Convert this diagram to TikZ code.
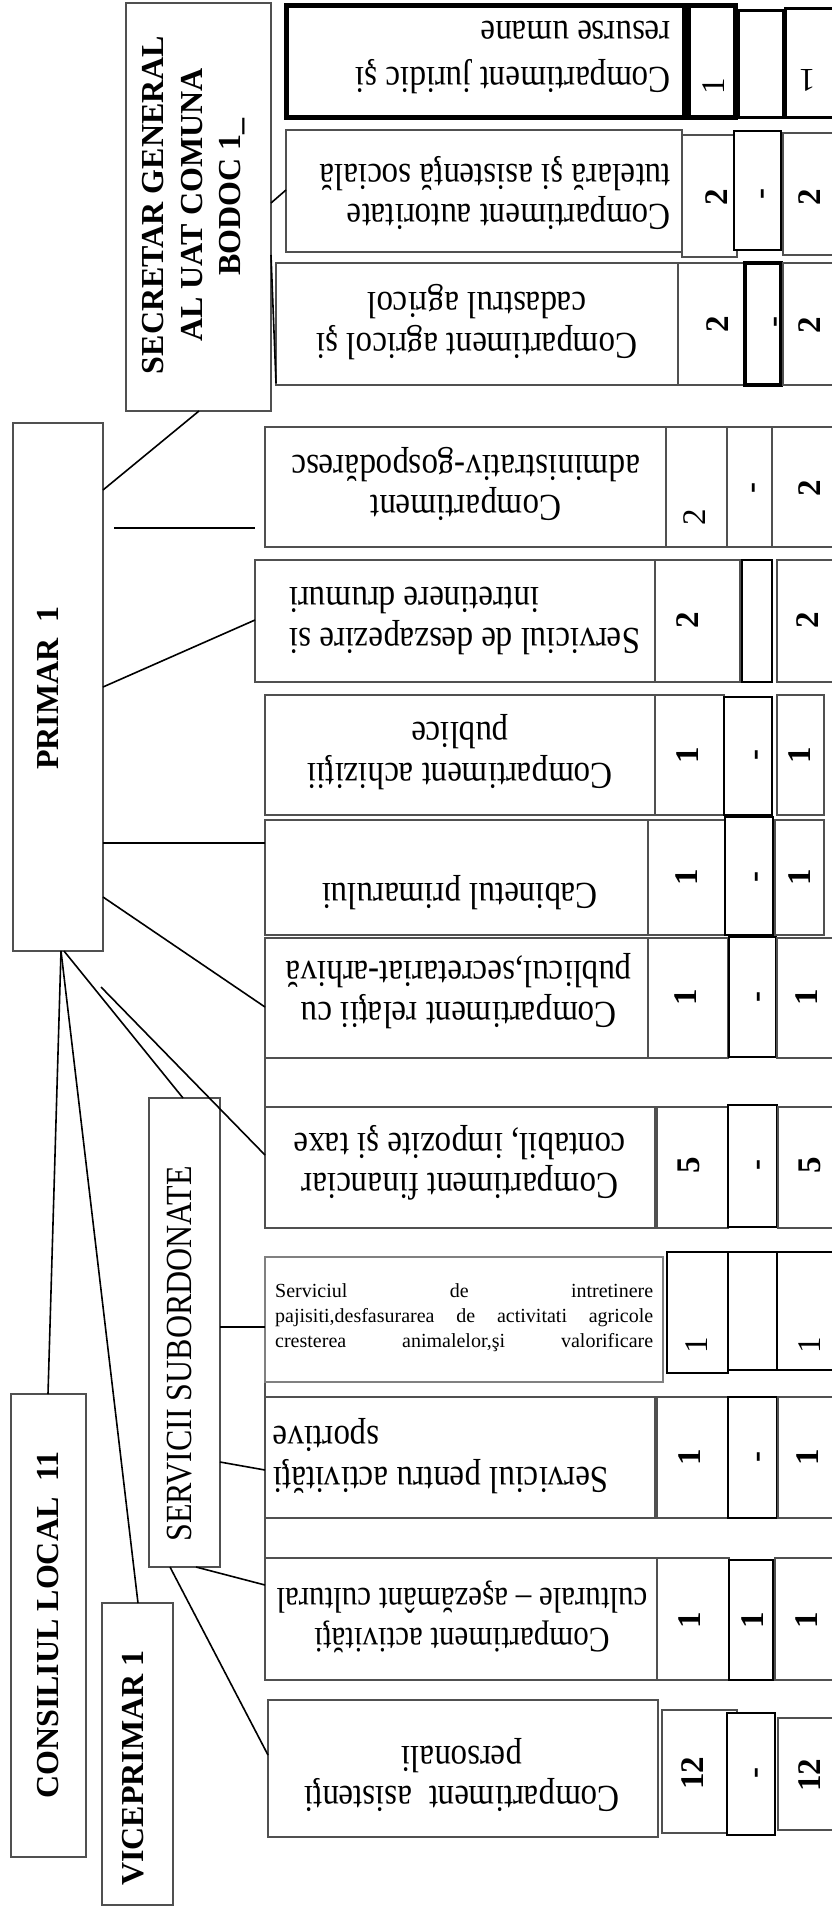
\documentclass[tikz,border=0pt]{standalone}
\usepackage{fontspec}
\setmainfont{Liberation Serif}
\usetikzlibrary{fit}
\definecolor{bord}{HTML}{505050}
\tikzset{
 bx/.style={draw=bord, line width=2.6pt, fill=white, inner sep=0pt, outer sep=0pt},
 bkb/.style={draw=black, line width=2pt, fill=white, inner sep=0pt, outer sep=0pt},
 hvb/.style={draw=black, line width=5pt, fill=white, inner sep=0pt, outer sep=0pt},
 lbl/.style={font=\fontsize{33}{35}\selectfont, rotate=180, yscale=1.15, inner sep=0pt},
 num/.style={font=\bfseries\fontsize{33}{33}\selectfont, rotate=90, inner sep=0pt},
 numr/.style={font=\fontsize{33}{33}\selectfont, rotate=90, inner sep=0pt},
 head/.style={font=\bfseries\fontsize{32}{38.5}\selectfont, rotate=90, inner sep=0pt, align=center},
 conn/.style={draw=black, line width=1.6pt},
}
\newcommand\mybox[6]{\node[#1, fit={(#2,#3) (#4,#5)}] (#6) {};}
\begin{document}
\begin{tikzpicture}[x=1pt,y=-1pt]
\clip (0,0) rectangle (832,1912);
\fill[white] (0,0) rectangle (832,1912);
% short vertical links between the left edges of rows 8-9, 10-11, 11-12
\coordinate (bus1a) at (265,1058); \coordinate (bus1b) at (265,1107);
\coordinate (bus2a) at (265,1380); \coordinate (bus2b) at (265,1397);
\coordinate (bus3a) at (265,1518); \coordinate (bus3b) at (265,1558);
\draw[draw=bord, line width=2.6pt] (bus1a) -- (bus1b) (bus2a) -- (bus2b) (bus3a) -- (bus3b);
% row 1
\mybox{hvb}{286}{5}{684}{117}{r1}
\mybox{hvb}{688}{5}{735}{117}{r1b}
\mybox{bkb, line width=3pt}{738}{10}{783}{117}{r1c}
\mybox{bkb, line width=3pt}{785}{8}{845}{117}{r1d}
% row 2
\mybox{bx}{286}{130}{682}{252}{r2}
\mybox{bx}{682}{135}{737}{257}{r2b}
\mybox{bkb}{734}{131}{781}{250}{r2c}
\mybox{bx}{783}{133}{845}{255}{r2d}
% row 3
\mybox{bx}{276}{263}{678}{385}{r3}
\mybox{bx}{678}{263}{745}{385}{r3b}
\mybox{bkb, line width=3.5pt}{745}{263}{781}{385}{r3c}
\mybox{bx}{783}{263}{845}{385}{r3d}
% row 4
\mybox{bx}{265}{427}{666}{547}{r4}
\mybox{bx}{666}{427}{727}{547}{r4b}
\mybox{bx}{727}{427}{772}{547}{r4c}
\mybox{bx}{772}{427}{845}{547}{r4d}
% row 5
\mybox{bx}{255}{560}{655}{682}{r5}
\mybox{bx}{655}{560}{740}{682}{r5b}
\mybox{bkb}{742}{560}{772}{682}{r5c}
\mybox{bx}{777}{560}{845}{682}{r5d}
% row 6
\mybox{bx}{265}{695}{655}{815}{r6}
\mybox{bx}{655}{695}{724}{815}{r6b}
\mybox{bkb}{724}{697}{772}{815}{r6c}
\mybox{bx}{777}{695}{824}{815}{r6d}
% row 7
\mybox{bx}{265}{820}{648}{935}{r7}
\mybox{bx}{648}{820}{725}{935}{r7b}
\mybox{bkb}{725}{817}{773}{935}{r7c}
\mybox{bx}{775}{820}{824}{935}{r7d}
% row 8
\mybox{bx}{265}{938}{648}{1058}{r8}
\mybox{bx}{648}{938}{728}{1058}{r8b}
\mybox{bkb}{729}{937}{776}{1057}{r8c}
\mybox{bx}{777}{938}{845}{1058}{r8d}
% row 9
\mybox{bx}{265}{1107}{655}{1228}{r9}
\mybox{bx}{657}{1107}{728}{1228}{r9b}
\mybox{bkb}{728}{1105}{777}{1227}{r9c}
\mybox{bx}{778}{1107}{845}{1228}{r9d}
% row 10
\mybox{bx, draw=gray}{265}{1257}{663}{1382}{r10}
\mybox{bkb}{667}{1252}{728}{1373}{r10b}
\mybox{bkb}{728}{1252}{777}{1370}{r10c}
\mybox{bkb}{777}{1252}{845}{1370}{r10d}
% row 11
\mybox{bx}{265}{1397}{655}{1518}{r11}
\mybox{bx}{657}{1397}{728}{1518}{r11b}
\mybox{bkb}{728}{1397}{777}{1518}{r11c}
\mybox{bx}{778}{1397}{845}{1518}{r11d}
% row 12
\mybox{bx}{265}{1558}{657}{1680}{r12}
\mybox{bx}{657}{1558}{729}{1680}{r12b}
\mybox{bkb}{729}{1560}{773}{1680}{r12c}
\mybox{bx}{775}{1558}{845}{1680}{r12d}
% row 13
\mybox{bx}{268}{1700}{658}{1837}{r13}
\mybox{bx}{662}{1710}{737}{1833}{r13b}
\mybox{bkb}{727}{1713}{775}{1835}{r13c}
\mybox{bx}{778}{1718}{845}{1830}{r13d}
% left boxes
\mybox{bx}{126}{3}{271}{411}{secr}
\mybox{bx}{13}{423}{103}{951}{primar}
\mybox{bx}{149}{1098}{220}{1567}{serv}
\mybox{bx}{11}{1394}{86}{1857}{cons}
\mybox{bx}{102}{1603}{173}{1905}{vice}
% left labels
\node[head] (tsecr) at (194,205) {SECRETAR GENERAL\\AL UAT COMUNA\\BODOC 1\rlap{\_}};
\node[head] (tprim) at (48,688) {PRIMAR\ \ 1};
\node[head] (tcons) at (48,1625) {CONSILIUL LOCAL\ \ 11};
\node[head] (tvice) at (133,1768) {VICEPRIMAR 1};
\node[font=\fontsize{32}{32}\selectfont, rotate=90, yscale=1.15, inner sep=0pt] (tserv) at (180,1354) {SERVICII SUBORDONATE};
% box texts
\node[lbl, anchor=west, align=left, font=\fontsize{33}{40}\selectfont] (t1) at (671,57) {Compartiment juridic şi\\resurse umane};
\node[lbl, anchor=west, align=left] (t2) at (671,193) {Compartiment autoritate\\tutelară şi asistenţă socială};
\node[lbl, align=center] (t3) at (477,322) {Compartiment agricol şi\\cadastrul agricol};
\node[lbl, align=center] (t4) at (466,484) {Compartiment\\administrativ-gospodăresc};
\node[lbl, anchor=east, align=right] (t5) at (289,621) {Serviciul de deszapezire si\\intretinere drumuri};
\node[lbl, align=center] (t6) at (460,752) {Compartiment achiziţii\\publice};
\node[lbl, align=center] (t7) at (460,893) {Cabinetul primarului};
\node[lbl, align=center] (t8) at (459,991) {Compartiment relaţii cu\\publicul,secretariat-arhivă};
\node[lbl, align=center] (t9) at (460,1163) {Compartiment financiar\\contabil, impozite şi taxe};
\node[anchor=north west, inner sep=0pt, align=left, font=\fontsize{20}{25}\selectfont] (t10) at (275,1283)
 {\makebox[378pt][s]{Serviciul de intretinere}\\\makebox[378pt][s]{pajisiti,desfasurarea de activitati agricole}\\\makebox[378pt][s]{cresterea animalelor,şi valorificare}};
\node[lbl, anchor=east, align=right] (t11) at (273,1456) {Serviciul pentru activităţi\\sportive};
\node[lbl, align=center, font=\fontsize{31}{35}\selectfont] (t12) at (462,1617) {Compartiment activităţi\\culturale – aşezământ cultural};
\node[lbl, align=center] (t13) at (462,1775) {Compartiment\ \ asistenţi\\personali};
% numbers
\node[numr] (n1b) at (714,86) {1};
\node[font=\fontsize{33}{33}\selectfont, rotate=180, inner sep=0pt] (n1d) at (807,80) {1};
\node[num] (n2b) at (717,197) {2};
\node[num] (n2c) at (766,194) {-};
\node[num] (n2d) at (810,197) {2};
\node[num] (n3b) at (718,324) {2};
\node[num] (n3c) at (779,322) {-};
\node[num] (n3d) at (810,325) {2};
\node[numr] (n4b) at (695,517) {2};
\node[num] (n4c) at (757,488) {-};
\node[num] (n4d) at (810,488) {2};
\node[num] (n5b) at (688,620) {2};
\node[num] (n5d) at (808,620) {2};
\node[num] (n6b) at (688,755) {1};
\node[num] (n6c) at (760,755) {-};
\node[num] (n6d) at (800,755) {1};
\node[num] (n7b) at (687,877) {1};
\node[num] (n7c) at (760,877) {-};
\node[num] (n7d) at (800,877) {1};
\node[num] (n8b) at (686,997) {1};
\node[num] (n8c) at (762,997) {-};
\node[num] (n8d) at (807,997) {1};
\node[num] (n9b) at (689,1165) {5};
\node[num] (n9c) at (762,1165) {-};
\node[num] (n9d) at (810,1165) {5};
\node[numr] (n10b) at (697,1345) {1};
\node[numr] (n10d) at (810,1345) {1};
\node[num] (n11b) at (690,1457) {1};
\node[num] (n11c) at (762,1457) {-};
\node[num] (n11d) at (808,1457) {1};
\node[num] (n12b) at (690,1620) {1};
\node[num] (n12c) at (753,1620) {1};
\node[num] (n12d) at (807,1620) {1};
\node[num] (n13b) at (693,1773) {12};
\node[num] (n13c) at (760,1773) {-};
\node[num] (n13d) at (810,1775) {12};
% connectors
\coordinate (p4a) at (114,528);
\coordinate (p4b) at (255,528);
\coordinate (f0) at (101,987);
\draw[conn] (secr.south -| 199,0) -- (primar.east |- 0,490);
\draw[conn] (p4a) -- (p4b);
\draw[conn] (primar.east |- 0,687) -- (r5.west |- 0,620);
\draw[conn] (primar.east |- 0,843) -- (r7.west |- 0,843);
\draw[conn] (primar.east |- 0,897) -- (r8.west |- 0,1007);
\draw[conn] (primar.south -| 61,0) -- (cons.north -| 48,0);
\draw[conn] (primar.south -| 61,0) -- (vice.north -| 138,0);
\draw[conn] (primar.south -| 64,0) -- (serv.north -| 183,0);
\draw[conn] (f0) -- (r9.west |- 0,1155);
\draw[conn] (serv.east |- 0,1327) -- (r10.west |- 0,1327);
\draw[conn] (serv.east |- 0,1462) -- (r11.west |- 0,1470);
\draw[conn] (serv.south -| 196,0) -- (r12.west |- 0,1585);
\draw[conn] (serv.south -| 170,0) -- (r13.west |- 0,1755);
\draw[conn] (secr.east |- 0,203) -- (r2.west |- 0,190);
\draw[conn] (secr.east |- 0,255) -- (r3.west |- 0,383);
\end{tikzpicture}
\end{document}
